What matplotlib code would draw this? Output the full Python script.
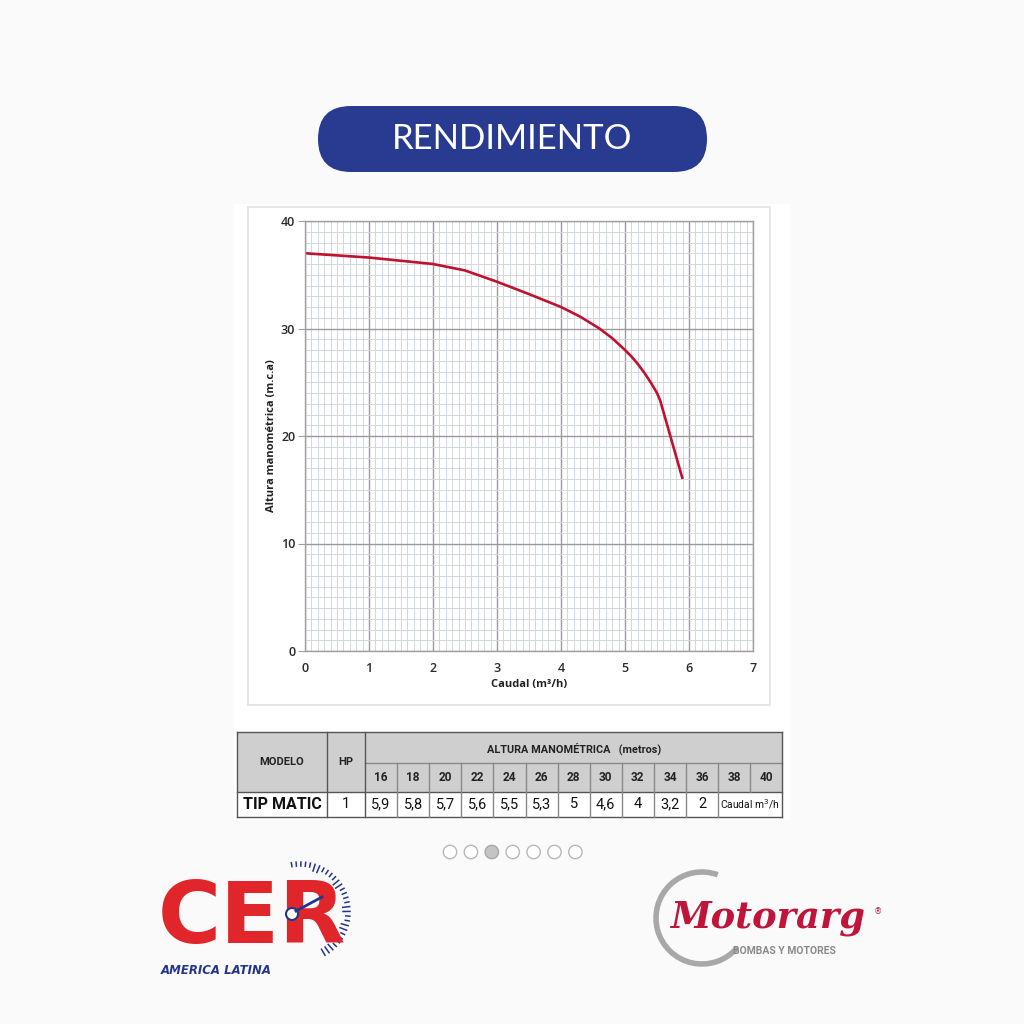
import numpy as np
import matplotlib
matplotlib.use('Agg')
import matplotlib.pyplot as plt
from matplotlib.patches import FancyBboxPatch, Rectangle, Circle, Arc

# curve: caudal (m3/h) vs altura manometrica (m)
caudal = [0, 0.5, 1, 1.5, 2, 2.5, 3, 3.5, 4, 4.3, 4.6, 4.8, 5.0, 5.1, 5.2, 5.3, 5.4, 5.5, 5.55, 5.9]
altura = [37.0, 36.8, 36.6, 36.3, 36.0, 35.4, 34.35, 33.2, 32.0, 31.1, 30.0, 29.1, 28.0,
          27.4, 26.7, 25.9, 25.0, 24.0, 23.3, 16.0]

# table
alturas_tabla = ['16', '18', '20', '22', '24', '26', '28', '30', '32', '34', '36', '38', '40']
caudales_tabla = ['5,9', '5,8', '5,7', '5,6', '5,5', '5,3', '5', '4,6', '4', '3,2', '2']
modelo = 'TIP MATIC'
hp = '1'

BG = '#fafafa'
BLUE = '#283b91'
RED = '#c0122f'
NARROW = ['Roboto', 'DejaVu Sans']

fig = plt.figure(figsize=(10.24, 10.24), dpi=100, facecolor=BG)

# overlay in pixel coordinates for the page decoration
bg = fig.add_axes([0, 0, 1, 1], zorder=0)
bg.set_xlim(0, 1024)
bg.set_ylim(1024, 0)
bg.axis('off')

# title pill
bg.add_patch(FancyBboxPatch((318, 106), 389, 66,
                            boxstyle='round,pad=0,rounding_size=33',
                            fc=BLUE, ec='none'))
bg.text(512, 139, 'RENDIMIENTO', color='white', fontsize=25, family='Lato',
        ha='center', va='center')

# white image area + panel border
bg.add_patch(Rectangle((234, 204), 556, 616, fc='white', ec='none'))
bg.add_patch(Rectangle((248, 207), 522, 498, fc='white', ec='#e2e2e2', lw=1.2))

# chart
ax = fig.add_axes([305 / 1024, 1 - 651 / 1024, 448 / 1024, 430 / 1024], zorder=2)
ax.set_xlim(0, 7)
ax.set_ylim(0, 40)
ax.set_xticks(range(0, 8))
ax.set_yticks([0, 10, 20, 30, 40])
ax.set_xticks(np.arange(0, 7.01, 0.1), minor=True)
ax.set_yticks(np.arange(0, 40.1, 1), minor=True)
ax.grid(which='minor', color='#d3d7df', lw=0.7)
ax.grid(which='major', color='#9a9a9a', lw=1.0)
ax.set_axisbelow(True)
for s in ax.spines.values():
    s.set_color('#a0a0a0')
    s.set_linewidth(1.0)
ax.tick_params(which='minor', length=0)
ax.tick_params(axis='y', which='major', length=5, color='#a0a0a0', pad=2,
               labelsize=9, labelcolor='#2a2a2a')
ax.tick_params(axis='x', which='major', length=0, pad=8,
               labelsize=9, labelcolor='#2a2a2a')
for lab in ax.get_xticklabels() + ax.get_yticklabels():
    lab.set_family('Open Sans')
    lab.set_fontweight('semibold')
ax.plot(caudal, altura, color=RED, lw=1.9, solid_capstyle='butt', solid_joinstyle='round')
ax.set_xlabel('Caudal (m³/h)', fontsize=8, fontweight='bold', family='Open Sans',
              color='#222222', labelpad=3)
ax.set_ylabel('Altura manométrica (m.c.a)', fontsize=8, fontweight='bold',
              family='Open Sans', color='#222222', labelpad=3)

# table
tb = fig.add_axes([0, 0, 1, 1], zorder=3)
tb.set_xlim(0, 1024)
tb.set_ylim(1024, 0)
tb.axis('off')
col_x = [237, 327, 365] + [365 + 32.1 * (i + 1) for i in range(13)]
y0, y1, y2, y3 = 732, 763, 792, 817
HEAD = '#cfcfcf'
EDGE = '#555555'
tb.add_patch(Rectangle((col_x[0], y0), col_x[-1] - col_x[0], y2 - y0, fc=HEAD, ec='none'))
tb.add_patch(Rectangle((col_x[0], y2), col_x[-1] - col_x[0], y3 - y2, fc='white', ec='none'))
lw = 1.0
tb.plot([col_x[0], col_x[-1]], [y0, y0], color=EDGE, lw=lw)
tb.plot([col_x[0], col_x[-1]], [y3, y3], color=EDGE, lw=lw)
tb.plot([col_x[2], col_x[-1]], [y1, y1], color='#888888', lw=lw)
tb.plot([col_x[0], col_x[-1]], [y2, y2], color=EDGE, lw=lw)
for i, x in enumerate(col_x):
    if i <= 2 or i == len(col_x) - 1:
        tb.plot([x, x], [y0, y3], color=EDGE, lw=lw)
    elif i == len(col_x) - 2:
        tb.plot([x, x], [y1, y2], color='#888888', lw=lw)
    else:
        tb.plot([x, x], [y1, y3], color='#888888', lw=lw)

tb.text((col_x[0] + col_x[1]) / 2, (y0 + y2) / 2, 'MODELO', ha='center', va='center',
        fontsize=8, fontweight='bold', family=NARROW, color='#222222')
tb.text((col_x[1] + col_x[2]) / 2, (y0 + y2) / 2, 'HP', ha='center', va='center',
        fontsize=8, fontweight='bold', family=NARROW, color='#222222')
tb.text((col_x[2] + col_x[-1]) / 2, (y0 + y1) / 2 + 1, 'ALTURA MANOMÉTRICA   (metros)',
        ha='center', va='center', fontsize=7.8, fontweight='bold', family=NARROW,
        color='#222222')
for i, a in enumerate(alturas_tabla):
    tb.text((col_x[2 + i] + col_x[3 + i]) / 2, (y1 + y2) / 2, a, ha='center',
            va='center', fontsize=8.5, fontweight='bold', family=NARROW, color='#222222')
tb.text((col_x[0] + col_x[1]) / 2, (y2 + y3) / 2, modelo, ha='center', va='center',
        fontsize=11.5, fontweight='bold', family=NARROW, color='#111111')
tb.text((col_x[1] + col_x[2]) / 2, (y2 + y3) / 2, hp, ha='center', va='center',
        fontsize=10.5, family=NARROW, color='#111111')
for i, c in enumerate(caudales_tabla):
    tb.text((col_x[2 + i] + col_x[3 + i]) / 2, (y2 + y3) / 2, c, ha='center',
            va='center', fontsize=10.5, family=NARROW, color='#111111')
tb.text((col_x[-3] + col_x[-1]) / 2, (y2 + y3) / 2, 'Caudal m$^{3}$/h', ha='center',
        va='center', fontsize=7.4, family=NARROW, color='#111111')

# pagination dots
for i in range(7):
    cx = 450 + 20.9 * i
    fc = '#c4c4c4' if i == 2 else 'white'
    ec = '#a8a8a8' if i == 2 else '#b8b8b8'
    bg.add_patch(Circle((cx, 852), 6.7, fc=fc, ec=ec, lw=1.0))

# CER logo
bg.text(158, 920, 'CER', color='#e0262a', fontsize=62, fontweight='bold',
        family='DejaVu Sans', ha='left', va='center')
bg.text(161, 970, 'AMERICA LATINA', color='#23358c', fontsize=8.5, fontweight='bold',
        style='italic', family='DejaVu Sans', ha='left', va='center')
gc_x, gc_y, gr = 300, 912, 50
for ang in np.linspace(100, -60, 30):
    r0 = gr - (7 if int(ang) % 3 == 0 else 4)
    t = np.deg2rad(ang)
    bg.plot([gc_x + r0 * np.cos(t), gc_x + gr * np.cos(t)],
            [gc_y - r0 * np.sin(t), gc_y - gr * np.sin(t)], color='#23358c', lw=1.1)
bg.add_patch(Circle((292, 914), 6, fc='white', ec='#23358c', lw=1.5, zorder=5))
bg.plot([296, 322], [911, 897], color='#23358c', lw=2, zorder=5)

# Motorarg logo
bg.add_patch(Arc((702, 918), 92, 92, theta1=40, theta2=290, color='#a8a8a8', lw=4))
bg.text(670, 918, 'Motorarg', color='#c0153a', fontsize=26.5, fontweight='bold',
        style='italic', family='DejaVu Serif', ha='left', va='center')
bg.text(878, 912, '®', color='#c0153a', fontsize=6, ha='center', va='center')
bg.text(784, 951, 'BOMBAS Y MOTORES', color='#8a8a8a', fontsize=7.5, family=NARROW,
        fontweight='bold', ha='center', va='center')

fig.savefig('out.png', dpi=100, facecolor=BG)
